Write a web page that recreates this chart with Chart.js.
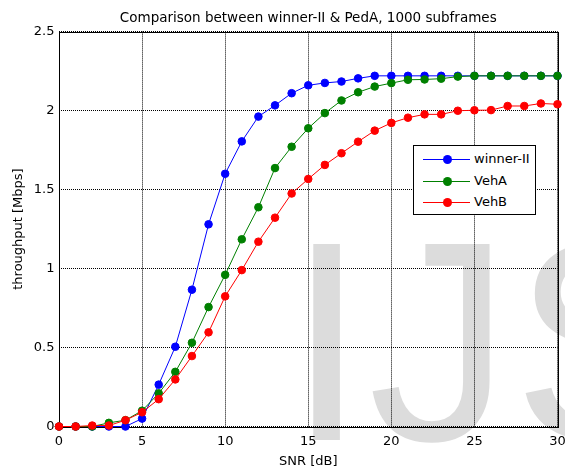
<!DOCTYPE html>
<html>
<head>
<meta charset="utf-8">
<script src="https://cdn.jsdelivr.net/npm/chart.js@4.4.1/dist/chart.umd.min.js"></script>
<style>
  body { margin: 0; background: #fff; }
  #wrap { position: relative; width: 565px; height: 472px; }
  #mark { position: absolute; left: 0; top: 0; z-index: 0; }
  #wrap canvas { position: relative; z-index: 1; }
  .legend {
    position: absolute; left: 413px; top: 145px; width: 123px; height: 70px;
    box-sizing: border-box; border: 1px solid #000; background: #fff; z-index: 2;
    font-family: "DejaVu Sans", sans-serif; font-size: 13px; color: #000;
  }
  .legend .row { position: absolute; left: 0; height: 16px; width: 100%; }
  .legend .line { position: absolute; left: 9px; top: 8px; width: 47px; height: 1px; }
  .legend .dot { position: absolute; left: 29px; top: 4px; width: 9px; height: 9px; border-radius: 50%; }
  .legend .txt { position: absolute; left: 60px; top: 0; line-height: 16px; }
</style>
</head>
<body>
<div id="wrap">
  <svg id="mark" width="565" height="472">
    <text x="287" y="440" font-family="Liberation Sans, Arial, sans-serif" font-size="285" fill="#dcdcdc" letter-spacing="2">IJS</text>
  </svg>
  <canvas id="chart"></canvas>
  <div class="legend" id="legend"></div>
</div>
<script>
document.addEventListener("DOMContentLoaded", () => {
    // SNR values on the x axis
    const snr = [0, 1, 2, 3, 4, 5, 6, 7, 8, 9, 10, 11, 12, 13, 14, 15, 16, 17, 18, 19, 20,
                 21, 22, 23, 24, 25, 26, 27, 28, 29, 30];

    // throughput [Mbps]
    const winner = [0, 0, 0, 0, 0, 0.05, 0.265, 0.505, 0.866, 1.28, 1.6, 1.805, 1.962, 2.033, 2.11,
                    2.16, 2.175, 2.184, 2.204, 2.22, 2.22, 2.22, 2.22, 2.22, 2.22, 2.22, 2.22, 2.22, 2.22, 2.22, 2.22];
    const vehA = [0, 0, 0, 0.023, 0.04, 0.1, 0.21, 0.346, 0.53, 0.756, 0.96, 1.185, 1.388, 1.636, 1.771,
                  1.888, 1.984, 2.064, 2.116, 2.152, 2.174, 2.195, 2.197, 2.202, 2.215, 2.22, 2.22, 2.22, 2.22, 2.22, 2.22];
    const vehB = [0, 0, 0.006, 0.006, 0.04, 0.09, 0.173, 0.298, 0.446, 0.596, 0.824, 0.99, 1.17, 1.322, 1.475,
                  1.567, 1.656, 1.73, 1.803, 1.873, 1.922, 1.955, 1.976, 1.976, 1.999, 2.002, 2.003, 2.029, 2.029, 2.045, 2.04];

    const xTicks = [0, 5, 10, 15, 20, 25, 30];
    const yTicks = [0, 0.5, 1, 1.5, 2, 2.5];

    const series = [
        { label: "winner-II", data: winner, color: "#0000ff", order: 2 },
        { label: "VehA", data: vehA, color: "#008000", order: 1 },
        { label: "VehB", data: vehB, color: "#ff0000", order: 0 }
    ];

    const font = { family: "'DejaVu Sans', sans-serif", size: 13 };

    // solid box round the plot, like matlab's "box on"
    const boxPlugin = {
        id: "box",
        afterLayout(chart) {
            // center the title over the plot, not the whole canvas
            const t = chart.titleBlock;
            if (t) {
                t.left = chart.chartArea.left;
                t.right = chart.chartArea.right;
                t.width = t.right - t.left;
            }
        },
        beforeDatasetsDraw(chart) {
            const a = chart.chartArea;
            const c = chart.ctx;
            c.save();
            c.strokeStyle = "#000";
            c.lineWidth = 1;
            c.strokeRect(Math.round(a.left) + 0.5, Math.round(a.top) + 0.5,
                Math.round(a.right) - Math.round(a.left), Math.round(a.bottom) - Math.round(a.top));
            c.restore();
        }
    };

    const ctx = document.getElementById("chart").getContext("2d");
    new Chart(ctx, {
        type: "line",
        data: {
            datasets: series.map(s => ({
                label: s.label,
                data: snr.map((x, i) => ({ x: x, y: s.data[i] })),
                borderColor: s.color,
                backgroundColor: s.color,
                pointBackgroundColor: s.color,
                pointBorderColor: s.color,
                borderWidth: 1,
                pointRadius: 3.8,
                pointBorderWidth: 1,
                tension: 0,
                order: s.order,
                clip: false
            }))
        },
        options: {
            responsive: true,
            maintainAspectRatio: false,
            animation: false,
            layout: { padding: { left: 0, right: 7.5, top: 0, bottom: 0 } },
            plugins: {
                legend: { display: false },
                tooltip: { enabled: false },
                title: {
                    display: true,
                    text: "Comparison between winner-II & PedA, 1000 subframes",
                    color: "#000",
                    font: { family: font.family, size: 13.5, weight: "normal" },
                    padding: { top: 10, bottom: 5.4 }
                }
            },
            scales: {
                x: {
                    type: "linear",
                    min: 0, max: 30,
                    afterFit: (s) => { s.height = 45.5; s.paddingLeft = 0; s.paddingRight = 0; },
                    afterBuildTicks: (s) => { s.ticks = xTicks.map(v => ({ value: v })); },
                    ticks: { color: "#000", font: font, padding: 7, maxRotation: 0, callback: (v) => String(v) },
                    grid: { color: "#000", drawTicks: false, lineWidth: 1 },
                    border: { display: false, dash: [1, 1] },
                    title: { display: true, text: "SNR [dB]", color: "#000", font: font, padding: { top: 0, bottom: 2.5 } }
                },
                y: {
                    min: 0, max: 2.5,
                    afterFit: (s) => { s.width = 59; s.paddingTop = 0; s.paddingBottom = 0; },
                    afterBuildTicks: (s) => { s.ticks = yTicks.map(v => ({ value: v })); },
                    ticks: { color: "#000", font: font, padding: 4.5, callback: (v) => String(v) },
                    grid: { color: "#000", drawTicks: false, lineWidth: 1 },
                    border: { display: false, dash: [1, 1] },
                    title: { display: true, text: "throughput [Mbps]", color: "#000", font: font, padding: { top: 10.5, bottom: 0 } }
                }
            }
        },
        plugins: [boxPlugin]
    });

    // legend box inside the plot
    const legend = document.getElementById("legend");
    const rowTops = [5, 27, 48];
    series.forEach((s, i) => {
        const row = document.createElement("div");
        row.className = "row";
        row.style.top = rowTops[i] + "px";
        row.innerHTML = '<div class="line" style="background:' + s.color + '"></div>' +
            '<div class="dot" style="background:' + s.color + '"></div>' +
            '<div class="txt">' + s.label + '</div>';
        legend.appendChild(row);
    });
});
</script>
</body>
</html>
